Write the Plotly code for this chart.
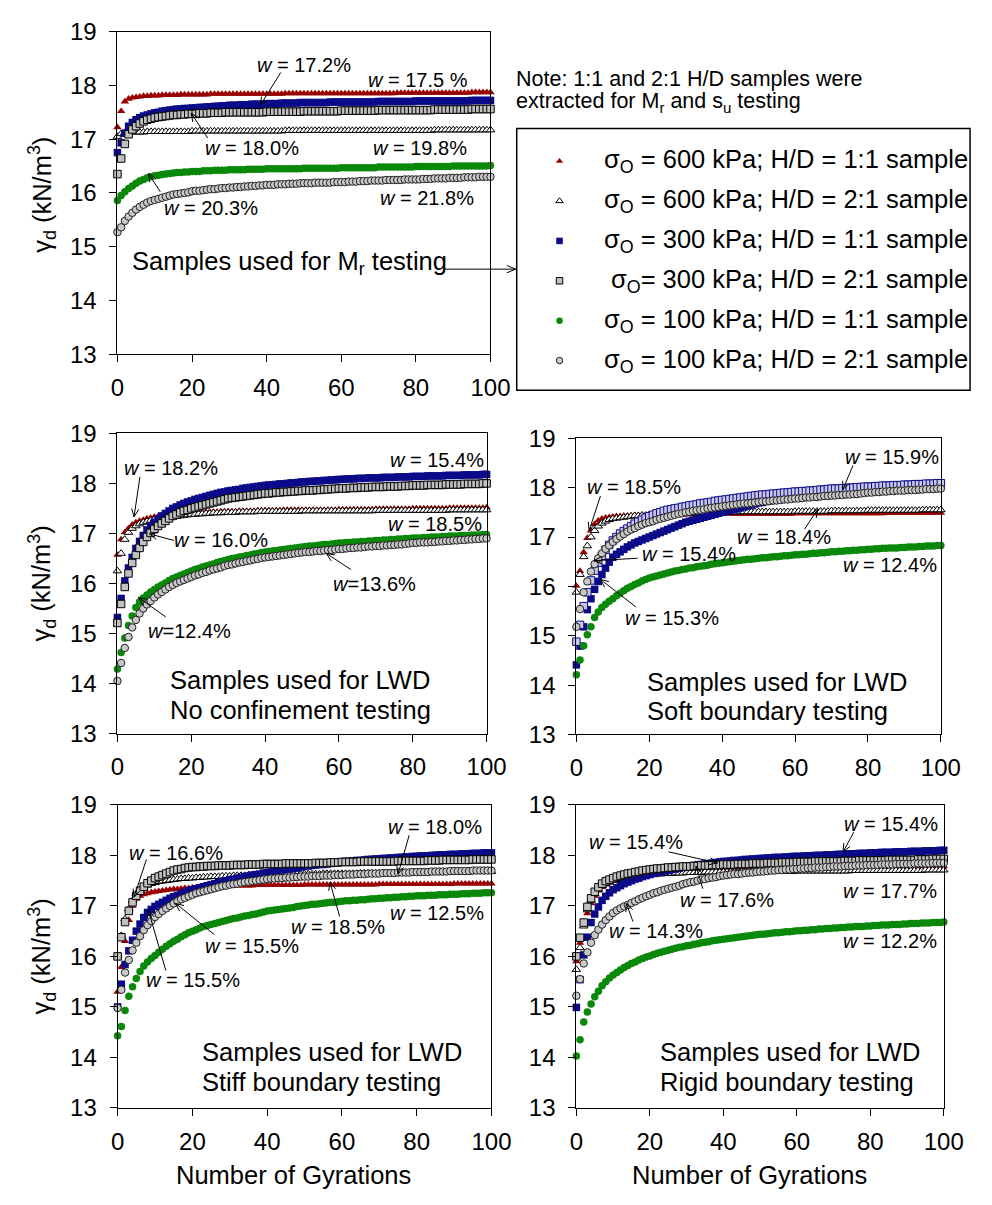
import math
import plotly.graph_objects as go

W, H = 992, 1205
FONT = "Liberation Sans, Arial, sans-serif"

gyrations = list(range(0, 101))

# ---------------- Samples used for Mr testing ----------------
mr_600_11 = [
    17.22, 17.52, 17.70, 17.75, 17.77, 17.78, 17.79, 17.80, 17.80, 17.81,
    17.81, 17.81, 17.82, 17.82, 17.82, 17.82, 17.82, 17.83, 17.83, 17.83,
    17.83, 17.83, 17.83, 17.83, 17.83, 17.84, 17.84, 17.84, 17.84, 17.84,
    17.84, 17.84, 17.84, 17.84, 17.84, 17.84, 17.84, 17.84, 17.84, 17.84,
    17.84, 17.84, 17.84, 17.84, 17.84, 17.85, 17.85, 17.85, 17.85, 17.85,
    17.85, 17.85, 17.85, 17.85, 17.85, 17.85, 17.85, 17.85, 17.85, 17.85,
    17.85, 17.85, 17.85, 17.85, 17.85, 17.85, 17.85, 17.85, 17.85, 17.85,
    17.85, 17.85, 17.85, 17.85, 17.85, 17.86, 17.86, 17.86, 17.86, 17.86,
    17.86, 17.86, 17.86, 17.86, 17.86, 17.86, 17.86, 17.86, 17.86, 17.86,
    17.86, 17.86, 17.86, 17.86, 17.86, 17.87, 17.87, 17.87, 17.87, 17.87,
    17.87]
mr_600_21 = [
    17.05, 17.10, 17.12, 17.12, 17.13, 17.13, 17.13, 17.13, 17.14, 17.14,
    17.14, 17.14, 17.14, 17.14, 17.14, 17.14, 17.14, 17.14, 17.14, 17.14,
    17.15, 17.15, 17.15, 17.15, 17.15, 17.15, 17.15, 17.15, 17.15, 17.15,
    17.15, 17.15, 17.15, 17.15, 17.15, 17.15, 17.15, 17.15, 17.15, 17.15,
    17.15, 17.15, 17.15, 17.15, 17.15, 17.16, 17.16, 17.16, 17.16, 17.16,
    17.16, 17.16, 17.16, 17.16, 17.16, 17.16, 17.16, 17.16, 17.16, 17.16,
    17.16, 17.16, 17.16, 17.16, 17.16, 17.16, 17.16, 17.16, 17.16, 17.16,
    17.16, 17.16, 17.16, 17.16, 17.16, 17.16, 17.16, 17.16, 17.16, 17.16,
    17.16, 17.16, 17.16, 17.16, 17.16, 17.17, 17.17, 17.17, 17.17, 17.17,
    17.17, 17.17, 17.17, 17.17, 17.17, 17.17, 17.17, 17.17, 17.17, 17.17,
    17.17]
mr_300_11 = [
    16.75, 16.93, 17.11, 17.24, 17.31, 17.36, 17.40, 17.43, 17.45, 17.47,
    17.49, 17.50, 17.52, 17.53, 17.54, 17.55, 17.56, 17.56, 17.57, 17.57,
    17.58, 17.58, 17.59, 17.59, 17.60, 17.60, 17.61, 17.61, 17.62, 17.62,
    17.63, 17.63, 17.63, 17.64, 17.64, 17.64, 17.65, 17.65, 17.65, 17.65,
    17.66, 17.66, 17.66, 17.66, 17.67, 17.67, 17.67, 17.67, 17.67, 17.68,
    17.68, 17.68, 17.68, 17.68, 17.68, 17.68, 17.68, 17.69, 17.69, 17.69,
    17.69, 17.69, 17.69, 17.69, 17.69, 17.69, 17.69, 17.69, 17.69, 17.69,
    17.70, 17.70, 17.70, 17.70, 17.70, 17.70, 17.70, 17.70, 17.70, 17.70,
    17.71, 17.71, 17.71, 17.71, 17.71, 17.71, 17.71, 17.71, 17.71, 17.71,
    17.71, 17.71, 17.71, 17.71, 17.71, 17.72, 17.72, 17.72, 17.72, 17.72,
    17.72]
mr_300_21 = [
    16.35, 16.64, 16.91, 17.09, 17.18, 17.24, 17.29, 17.33, 17.36, 17.38,
    17.40, 17.41, 17.42, 17.43, 17.44, 17.45, 17.45, 17.46, 17.46, 17.47,
    17.47, 17.47, 17.48, 17.48, 17.48, 17.49, 17.49, 17.49, 17.49, 17.50,
    17.50, 17.50, 17.50, 17.50, 17.50, 17.50, 17.50, 17.50, 17.50, 17.50,
    17.51, 17.51, 17.51, 17.51, 17.51, 17.51, 17.51, 17.51, 17.51, 17.51,
    17.52, 17.52, 17.52, 17.52, 17.52, 17.52, 17.52, 17.52, 17.52, 17.52,
    17.53, 17.53, 17.53, 17.53, 17.53, 17.53, 17.53, 17.53, 17.53, 17.53,
    17.54, 17.54, 17.54, 17.54, 17.54, 17.54, 17.54, 17.54, 17.54, 17.54,
    17.54, 17.54, 17.54, 17.54, 17.54, 17.55, 17.55, 17.55, 17.55, 17.55,
    17.55, 17.55, 17.55, 17.55, 17.55, 17.56, 17.56, 17.56, 17.56, 17.56,
    17.56]
mr_100_11 = [
    15.86, 15.95, 16.02, 16.08, 16.13, 16.18, 16.22, 16.25, 16.28, 16.30,
    16.32, 16.33, 16.34, 16.35, 16.36, 16.37, 16.38, 16.38, 16.39, 16.39,
    16.40, 16.40, 16.40, 16.41, 16.41, 16.41, 16.42, 16.42, 16.42, 16.42,
    16.43, 16.43, 16.43, 16.43, 16.43, 16.44, 16.44, 16.44, 16.44, 16.44,
    16.45, 16.45, 16.45, 16.45, 16.45, 16.45, 16.45, 16.45, 16.45, 16.45,
    16.46, 16.46, 16.46, 16.46, 16.46, 16.46, 16.46, 16.46, 16.46, 16.46,
    16.47, 16.47, 16.47, 16.47, 16.47, 16.47, 16.47, 16.47, 16.47, 16.47,
    16.48, 16.48, 16.48, 16.48, 16.48, 16.48, 16.48, 16.48, 16.48, 16.48,
    16.49, 16.49, 16.49, 16.49, 16.49, 16.49, 16.49, 16.49, 16.49, 16.49,
    16.50, 16.50, 16.50, 16.50, 16.50, 16.50, 16.50, 16.50, 16.50, 16.50,
    16.51]
mr_100_21 = [
    15.27, 15.36, 15.48, 15.56, 15.63, 15.69, 15.74, 15.78, 15.82, 15.85,
    15.87, 15.89, 15.91, 15.93, 15.95, 15.97, 15.98, 15.99, 16.00, 16.01,
    16.03, 16.04, 16.04, 16.05, 16.06, 16.07, 16.07, 16.08, 16.09, 16.09,
    16.10, 16.10, 16.11, 16.11, 16.12, 16.12, 16.13, 16.13, 16.14, 16.14,
    16.15, 16.15, 16.15, 16.16, 16.16, 16.16, 16.17, 16.17, 16.17, 16.18,
    16.18, 16.18, 16.18, 16.19, 16.19, 16.19, 16.19, 16.19, 16.20, 16.20,
    16.20, 16.20, 16.21, 16.21, 16.21, 16.22, 16.22, 16.22, 16.23, 16.23,
    16.23, 16.23, 16.24, 16.24, 16.24, 16.24, 16.24, 16.25, 16.25, 16.25,
    16.25, 16.25, 16.26, 16.26, 16.26, 16.27, 16.27, 16.27, 16.27, 16.28,
    16.28, 16.28, 16.28, 16.29, 16.29, 16.29, 16.29, 16.30, 16.30, 16.30,
    16.30]

# ---------------- LWD, no confinement ----------------
nc_600_11 = [
    16.57, 16.88, 17.02, 17.10, 17.17, 17.22, 17.25, 17.27, 17.30, 17.31,
    17.33, 17.34, 17.35, 17.36, 17.37, 17.38, 17.38, 17.39, 17.40, 17.40,
    17.41, 17.41, 17.42, 17.42, 17.42, 17.43, 17.43, 17.43, 17.44, 17.44,
    17.44, 17.44, 17.44, 17.45, 17.45, 17.45, 17.45, 17.45, 17.46, 17.46,
    17.46, 17.46, 17.46, 17.46, 17.46, 17.47, 17.47, 17.47, 17.47, 17.47,
    17.47, 17.47, 17.47, 17.47, 17.47, 17.47, 17.47, 17.47, 17.47, 17.47,
    17.48, 17.48, 17.48, 17.48, 17.48, 17.48, 17.48, 17.48, 17.48, 17.48,
    17.49, 17.49, 17.49, 17.49, 17.49, 17.49, 17.49, 17.49, 17.49, 17.49,
    17.50, 17.50, 17.50, 17.50, 17.50, 17.50, 17.50, 17.50, 17.50, 17.50,
    17.51, 17.51, 17.51, 17.51, 17.51, 17.51, 17.51, 17.51, 17.51, 17.51,
    17.52]
nc_600_21 = [
    16.25, 16.60, 16.88, 17.02, 17.10, 17.15, 17.19, 17.22, 17.24, 17.26,
    17.28, 17.29, 17.30, 17.31, 17.32, 17.33, 17.34, 17.35, 17.36, 17.37,
    17.38, 17.38, 17.39, 17.39, 17.40, 17.40, 17.41, 17.41, 17.41, 17.42,
    17.42, 17.42, 17.42, 17.43, 17.43, 17.43, 17.43, 17.43, 17.44, 17.44,
    17.44, 17.44, 17.44, 17.44, 17.44, 17.44, 17.44, 17.44, 17.44, 17.44,
    17.45, 17.45, 17.45, 17.45, 17.45, 17.45, 17.45, 17.45, 17.45, 17.45,
    17.45, 17.45, 17.45, 17.45, 17.45, 17.45, 17.45, 17.45, 17.45, 17.45,
    17.46, 17.46, 17.46, 17.46, 17.46, 17.46, 17.46, 17.46, 17.46, 17.46,
    17.46, 17.46, 17.46, 17.46, 17.46, 17.46, 17.46, 17.46, 17.46, 17.46,
    17.47, 17.47, 17.47, 17.47, 17.47, 17.47, 17.47, 17.47, 17.47, 17.47,
    17.47]
nc_300_11 = [
    15.32, 15.70, 16.05, 16.31, 16.52, 16.70, 16.84, 16.96, 17.07, 17.15,
    17.22, 17.29, 17.35, 17.40, 17.45, 17.50, 17.53, 17.57, 17.60, 17.63,
    17.65, 17.68, 17.70, 17.72, 17.74, 17.76, 17.78, 17.80, 17.82, 17.83,
    17.85, 17.86, 17.87, 17.88, 17.90, 17.91, 17.92, 17.93, 17.94, 17.95,
    17.96, 17.97, 17.97, 17.98, 17.99, 17.99, 18.00, 18.01, 18.01, 18.02,
    18.03, 18.03, 18.04, 18.04, 18.05, 18.05, 18.06, 18.06, 18.07, 18.07,
    18.08, 18.08, 18.09, 18.09, 18.09, 18.10, 18.10, 18.10, 18.11, 18.11,
    18.11, 18.11, 18.12, 18.12, 18.12, 18.12, 18.13, 18.13, 18.13, 18.13,
    18.14, 18.14, 18.14, 18.14, 18.15, 18.15, 18.15, 18.15, 18.15, 18.16,
    18.16, 18.16, 18.16, 18.16, 18.17, 18.17, 18.17, 18.17, 18.17, 18.18,
    18.18]
nc_300_21 = [
    15.21, 15.59, 15.93, 16.20, 16.41, 16.57, 16.71, 16.83, 16.93, 17.01,
    17.09, 17.15, 17.20, 17.25, 17.30, 17.35, 17.38, 17.42, 17.45, 17.47,
    17.50, 17.52, 17.54, 17.56, 17.58, 17.60, 17.62, 17.64, 17.66, 17.68,
    17.70, 17.71, 17.72, 17.73, 17.74, 17.75, 17.76, 17.77, 17.78, 17.79,
    17.80, 17.80, 17.81, 17.82, 17.82, 17.83, 17.83, 17.84, 17.84, 17.85,
    17.85, 17.86, 17.86, 17.86, 17.87, 17.87, 17.88, 17.88, 17.89, 17.89,
    17.90, 17.90, 17.90, 17.91, 17.91, 17.91, 17.92, 17.92, 17.92, 17.93,
    17.93, 17.93, 17.93, 17.94, 17.94, 17.94, 17.94, 17.95, 17.95, 17.95,
    17.96, 17.96, 17.96, 17.96, 17.97, 17.97, 17.97, 17.97, 17.97, 17.98,
    17.98, 17.98, 17.98, 17.98, 17.99, 17.99, 17.99, 17.99, 17.99, 18.00,
    18.00]
nc_100_11 = [
    14.29, 14.62, 14.91, 15.16, 15.35, 15.52, 15.63, 15.71, 15.77, 15.83,
    15.88, 15.93, 15.97, 16.01, 16.06, 16.10, 16.13, 16.16, 16.19, 16.22,
    16.25, 16.28, 16.30, 16.33, 16.35, 16.37, 16.39, 16.42, 16.44, 16.46,
    16.48, 16.50, 16.51, 16.53, 16.54, 16.56, 16.57, 16.59, 16.60, 16.62,
    16.63, 16.64, 16.65, 16.66, 16.67, 16.68, 16.69, 16.70, 16.71, 16.72,
    16.73, 16.74, 16.75, 16.75, 16.76, 16.77, 16.78, 16.78, 16.79, 16.80,
    16.81, 16.81, 16.82, 16.82, 16.83, 16.83, 16.84, 16.84, 16.85, 16.85,
    16.86, 16.86, 16.87, 16.87, 16.88, 16.88, 16.89, 16.89, 16.90, 16.90,
    16.91, 16.91, 16.91, 16.92, 16.92, 16.93, 16.93, 16.93, 16.94, 16.94,
    16.95, 16.95, 16.95, 16.96, 16.96, 16.96, 16.97, 16.97, 16.97, 16.98,
    16.98]
nc_100_21 = [
    14.05, 14.41, 14.71, 14.93, 15.12, 15.27, 15.40, 15.50, 15.58, 15.65,
    15.72, 15.78, 15.83, 15.88, 15.93, 15.97, 16.01, 16.04, 16.07, 16.10,
    16.13, 16.16, 16.18, 16.21, 16.23, 16.26, 16.28, 16.30, 16.32, 16.35,
    16.37, 16.38, 16.40, 16.42, 16.43, 16.45, 16.46, 16.48, 16.49, 16.51,
    16.52, 16.53, 16.54, 16.55, 16.56, 16.57, 16.58, 16.59, 16.60, 16.61,
    16.62, 16.63, 16.63, 16.64, 16.65, 16.65, 16.66, 16.67, 16.67, 16.68,
    16.69, 16.69, 16.70, 16.71, 16.71, 16.72, 16.72, 16.73, 16.74, 16.74,
    16.75, 16.75, 16.76, 16.76, 16.77, 16.77, 16.78, 16.78, 16.79, 16.80,
    16.81, 16.81, 16.82, 16.82, 16.82, 16.83, 16.83, 16.84, 16.84, 16.85,
    16.85, 16.86, 16.86, 16.87, 16.87, 16.88, 16.88, 16.89, 16.89, 16.90,
    16.90]

# ---------------- LWD, soft boundary ----------------
soft_600_11 = [
    16.01, 16.31, 16.69, 16.98, 17.13, 17.26, 17.33, 17.37, 17.39, 17.40,
    17.41, 17.42, 17.42, 17.43, 17.43, 17.43, 17.44, 17.44, 17.44, 17.44,
    17.45, 17.45, 17.45, 17.45, 17.45, 17.45, 17.45, 17.45, 17.45, 17.45,
    17.46, 17.46, 17.46, 17.46, 17.46, 17.46, 17.46, 17.46, 17.46, 17.46,
    17.47, 17.47, 17.47, 17.47, 17.47, 17.47, 17.47, 17.47, 17.47, 17.47,
    17.47, 17.47, 17.47, 17.47, 17.47, 17.47, 17.47, 17.47, 17.47, 17.47,
    17.48, 17.48, 17.48, 17.48, 17.48, 17.48, 17.48, 17.48, 17.48, 17.48,
    17.48, 17.48, 17.48, 17.48, 17.48, 17.48, 17.48, 17.48, 17.48, 17.48,
    17.48, 17.48, 17.48, 17.48, 17.48, 17.49, 17.49, 17.49, 17.49, 17.49,
    17.49, 17.49, 17.49, 17.49, 17.49, 17.49, 17.49, 17.49, 17.49, 17.49,
    17.49]
soft_600_21 = [
    15.88, 16.24, 16.60, 16.82, 17.00, 17.13, 17.22, 17.28, 17.32, 17.35,
    17.37, 17.38, 17.39, 17.40, 17.41, 17.42, 17.43, 17.43, 17.44, 17.44,
    17.45, 17.45, 17.46, 17.46, 17.46, 17.47, 17.47, 17.47, 17.48, 17.48,
    17.48, 17.48, 17.49, 17.49, 17.49, 17.49, 17.50, 17.50, 17.50, 17.50,
    17.50, 17.50, 17.50, 17.50, 17.50, 17.51, 17.51, 17.51, 17.51, 17.51,
    17.51, 17.51, 17.51, 17.51, 17.51, 17.51, 17.51, 17.51, 17.51, 17.51,
    17.52, 17.52, 17.52, 17.52, 17.52, 17.52, 17.52, 17.52, 17.52, 17.52,
    17.53, 17.53, 17.53, 17.53, 17.53, 17.53, 17.53, 17.53, 17.53, 17.53,
    17.54, 17.54, 17.54, 17.54, 17.54, 17.54, 17.54, 17.54, 17.54, 17.54,
    17.54, 17.54, 17.54, 17.54, 17.54, 17.55, 17.55, 17.55, 17.55, 17.55,
    17.55]
soft_300_11 = [
    14.41, 14.79, 15.18, 15.53, 15.75, 15.94, 16.10, 16.24, 16.37, 16.49,
    16.59, 16.65, 16.70, 16.75, 16.80, 16.84, 16.88, 16.91, 16.94, 16.97,
    17.00, 17.03, 17.06, 17.09, 17.12, 17.15, 17.18, 17.21, 17.24, 17.27,
    17.30, 17.32, 17.34, 17.36, 17.38, 17.40, 17.42, 17.44, 17.46, 17.48,
    17.50, 17.52, 17.54, 17.55, 17.57, 17.59, 17.61, 17.63, 17.65, 17.67,
    17.69, 17.70, 17.72, 17.73, 17.74, 17.76, 17.77, 17.78, 17.79, 17.80,
    17.82, 17.83, 17.84, 17.84, 17.85, 17.86, 17.87, 17.88, 17.88, 17.89,
    17.90, 17.91, 17.91, 17.92, 17.93, 17.93, 17.94, 17.95, 17.95, 17.96,
    17.96, 17.97, 17.97, 17.98, 17.98, 17.99, 17.99, 18.00, 18.00, 18.01,
    18.01, 18.02, 18.02, 18.02, 18.03, 18.03, 18.03, 18.04, 18.04, 18.04,
    18.05]
soft_300_21 = [
    14.88, 15.22, 15.60, 15.88, 16.12, 16.32, 16.48, 16.62, 16.74, 16.84,
    16.93, 17.00, 17.07, 17.12, 17.17, 17.22, 17.27, 17.31, 17.35, 17.39,
    17.42, 17.45, 17.48, 17.50, 17.53, 17.55, 17.56, 17.58, 17.59, 17.61,
    17.62, 17.64, 17.65, 17.66, 17.68, 17.69, 17.70, 17.71, 17.73, 17.74,
    17.75, 17.76, 17.77, 17.78, 17.79, 17.80, 17.81, 17.82, 17.83, 17.84,
    17.85, 17.86, 17.86, 17.87, 17.88, 17.88, 17.89, 17.90, 17.90, 17.91,
    17.92, 17.92, 17.93, 17.93, 17.94, 17.94, 17.95, 17.96, 17.96, 17.97,
    17.98, 17.98, 17.98, 17.99, 17.99, 18.00, 18.00, 18.01, 18.01, 18.02,
    18.02, 18.02, 18.03, 18.03, 18.04, 18.04, 18.04, 18.05, 18.05, 18.05,
    18.06, 18.06, 18.06, 18.07, 18.07, 18.07, 18.08, 18.08, 18.08, 18.09,
    18.09]
soft_100_11 = [
    14.21, 14.51, 14.80, 15.02, 15.18, 15.37, 15.48, 15.57, 15.64, 15.70,
    15.75, 15.81, 15.86, 15.91, 15.96, 16.00, 16.04, 16.07, 16.11, 16.14,
    16.17, 16.19, 16.21, 16.23, 16.25, 16.27, 16.29, 16.31, 16.32, 16.34,
    16.35, 16.37, 16.38, 16.40, 16.41, 16.42, 16.43, 16.45, 16.46, 16.47,
    16.48, 16.49, 16.50, 16.51, 16.52, 16.53, 16.54, 16.55, 16.55, 16.56,
    16.57, 16.58, 16.58, 16.59, 16.60, 16.60, 16.61, 16.62, 16.62, 16.63,
    16.64, 16.64, 16.65, 16.65, 16.66, 16.67, 16.67, 16.68, 16.68, 16.69,
    16.70, 16.70, 16.71, 16.71, 16.72, 16.72, 16.73, 16.73, 16.74, 16.74,
    16.75, 16.75, 16.76, 16.76, 16.77, 16.77, 16.78, 16.78, 16.78, 16.79,
    16.79, 16.80, 16.80, 16.80, 16.81, 16.81, 16.82, 16.82, 16.82, 16.83,
    16.83]
soft_100_21 = [
    15.18, 15.54, 15.88, 16.10, 16.30, 16.45, 16.57, 16.67, 16.76, 16.83,
    16.90, 16.96, 17.01, 17.06, 17.11, 17.15, 17.18, 17.22, 17.25, 17.28,
    17.30, 17.32, 17.35, 17.37, 17.39, 17.41, 17.43, 17.45, 17.47, 17.48,
    17.50, 17.51, 17.53, 17.54, 17.55, 17.56, 17.58, 17.59, 17.60, 17.61,
    17.62, 17.63, 17.64, 17.65, 17.66, 17.67, 17.68, 17.68, 17.69, 17.70,
    17.71, 17.72, 17.72, 17.73, 17.74, 17.74, 17.75, 17.76, 17.76, 17.77,
    17.78, 17.78, 17.79, 17.80, 17.80, 17.81, 17.81, 17.82, 17.83, 17.83,
    17.84, 17.84, 17.85, 17.85, 17.86, 17.86, 17.87, 17.87, 17.88, 17.89,
    17.90, 17.90, 17.91, 17.91, 17.92, 17.92, 17.93, 17.93, 17.94, 17.94,
    17.94, 17.95, 17.95, 17.95, 17.96, 17.96, 17.97, 17.97, 17.97, 17.98,
    17.98]

# ---------------- LWD, stiff boundary ----------------
stiff_600_11 = [
    15.30, 15.79, 16.30, 16.72, 17.00, 17.14, 17.20, 17.23, 17.25, 17.27,
    17.28, 17.29, 17.30, 17.31, 17.32, 17.33, 17.33, 17.34, 17.35, 17.35,
    17.36, 17.36, 17.37, 17.37, 17.37, 17.38, 17.38, 17.38, 17.39, 17.39,
    17.39, 17.39, 17.40, 17.40, 17.40, 17.40, 17.40, 17.41, 17.41, 17.41,
    17.41, 17.41, 17.41, 17.41, 17.41, 17.41, 17.41, 17.41, 17.41, 17.41,
    17.42, 17.42, 17.42, 17.42, 17.42, 17.42, 17.42, 17.42, 17.42, 17.42,
    17.42, 17.42, 17.42, 17.42, 17.42, 17.42, 17.42, 17.42, 17.42, 17.42,
    17.43, 17.43, 17.43, 17.43, 17.43, 17.43, 17.43, 17.43, 17.43, 17.43,
    17.43, 17.43, 17.43, 17.43, 17.43, 17.43, 17.43, 17.43, 17.43, 17.43,
    17.44, 17.44, 17.44, 17.44, 17.44, 17.44, 17.44, 17.44, 17.44, 17.44,
    17.44]
stiff_600_21 = [
    16.01, 16.41, 16.74, 16.94, 17.11, 17.24, 17.32, 17.37, 17.41, 17.44,
    17.46, 17.48, 17.49, 17.50, 17.51, 17.52, 17.53, 17.54, 17.54, 17.55,
    17.55, 17.56, 17.56, 17.57, 17.57, 17.58, 17.58, 17.58, 17.59, 17.59,
    17.59, 17.60, 17.60, 17.60, 17.60, 17.61, 17.61, 17.61, 17.61, 17.62,
    17.62, 17.62, 17.62, 17.62, 17.62, 17.63, 17.63, 17.63, 17.63, 17.63,
    17.63, 17.63, 17.63, 17.63, 17.63, 17.64, 17.64, 17.64, 17.64, 17.64,
    17.64, 17.64, 17.64, 17.64, 17.64, 17.65, 17.65, 17.65, 17.65, 17.65,
    17.65, 17.65, 17.65, 17.65, 17.65, 17.66, 17.66, 17.66, 17.66, 17.66,
    17.66, 17.66, 17.66, 17.66, 17.66, 17.67, 17.67, 17.67, 17.67, 17.67,
    17.67, 17.67, 17.67, 17.67, 17.67, 17.68, 17.68, 17.68, 17.68, 17.68,
    17.68]
stiff_300_11 = [
    15.00, 15.45, 15.84, 16.11, 16.32, 16.50, 16.64, 16.77, 16.87, 16.93,
    16.99, 17.03, 17.07, 17.11, 17.15, 17.18, 17.21, 17.24, 17.27, 17.30,
    17.32, 17.34, 17.36, 17.38, 17.40, 17.42, 17.44, 17.46, 17.48, 17.50,
    17.52, 17.53, 17.55, 17.56, 17.58, 17.59, 17.61, 17.62, 17.63, 17.65,
    17.66, 17.67, 17.68, 17.70, 17.71, 17.72, 17.73, 17.74, 17.75, 17.77,
    17.78, 17.79, 17.80, 17.81, 17.82, 17.82, 17.83, 17.84, 17.85, 17.86,
    17.87, 17.88, 17.88, 17.89, 17.90, 17.90, 17.91, 17.92, 17.92, 17.93,
    17.93, 17.94, 17.94, 17.95, 17.95, 17.96, 17.96, 17.97, 17.97, 17.98,
    17.98, 17.99, 17.99, 17.99, 18.00, 18.00, 18.01, 18.01, 18.01, 18.02,
    18.02, 18.02, 18.03, 18.03, 18.03, 18.04, 18.04, 18.04, 18.05, 18.05,
    18.05]
stiff_300_21 = [
    16.00, 16.38, 16.68, 16.90, 17.07, 17.20, 17.30, 17.38, 17.45, 17.50,
    17.55, 17.58, 17.61, 17.64, 17.67, 17.70, 17.72, 17.73, 17.75, 17.76,
    17.77, 17.77, 17.78, 17.78, 17.79, 17.79, 17.79, 17.80, 17.80, 17.80,
    17.80, 17.81, 17.81, 17.81, 17.81, 17.82, 17.82, 17.82, 17.82, 17.83,
    17.83, 17.83, 17.83, 17.83, 17.83, 17.84, 17.84, 17.84, 17.84, 17.84,
    17.84, 17.84, 17.84, 17.85, 17.85, 17.85, 17.85, 17.86, 17.86, 17.86,
    17.87, 17.87, 17.87, 17.87, 17.87, 17.88, 17.88, 17.88, 17.88, 17.88,
    17.88, 17.88, 17.88, 17.88, 17.88, 17.89, 17.89, 17.89, 17.89, 17.89,
    17.89, 17.89, 17.89, 17.90, 17.90, 17.90, 17.90, 17.91, 17.91, 17.91,
    17.91, 17.91, 17.91, 17.91, 17.91, 17.92, 17.92, 17.92, 17.92, 17.92,
    17.92]
stiff_100_11 = [
    14.43, 14.61, 14.93, 15.21, 15.40, 15.56, 15.70, 15.81, 15.89, 15.96,
    16.02, 16.08, 16.14, 16.20, 16.25, 16.30, 16.34, 16.39, 16.43, 16.47,
    16.50, 16.53, 16.56, 16.59, 16.61, 16.63, 16.65, 16.67, 16.69, 16.71,
    16.73, 16.75, 16.76, 16.78, 16.80, 16.81, 16.83, 16.84, 16.86, 16.88,
    16.90, 16.91, 16.92, 16.93, 16.94, 16.95, 16.96, 16.97, 16.99, 17.00,
    17.01, 17.02, 17.03, 17.03, 17.04, 17.05, 17.06, 17.07, 17.07, 17.08,
    17.09, 17.10, 17.10, 17.11, 17.11, 17.12, 17.12, 17.13, 17.14, 17.14,
    17.15, 17.15, 17.16, 17.16, 17.17, 17.17, 17.18, 17.18, 17.19, 17.19,
    17.20, 17.20, 17.20, 17.21, 17.21, 17.21, 17.22, 17.22, 17.22, 17.23,
    17.23, 17.23, 17.24, 17.24, 17.24, 17.25, 17.25, 17.25, 17.26, 17.26,
    17.26]
stiff_100_21 = [
    14.98, 15.34, 15.68, 15.93, 16.12, 16.27, 16.40, 16.52, 16.62, 16.70,
    16.78, 16.84, 16.90, 16.95, 17.00, 17.05, 17.09, 17.13, 17.16, 17.19,
    17.22, 17.25, 17.27, 17.29, 17.31, 17.33, 17.35, 17.37, 17.39, 17.40,
    17.42, 17.43, 17.44, 17.46, 17.47, 17.48, 17.49, 17.50, 17.51, 17.52,
    17.53, 17.54, 17.54, 17.55, 17.55, 17.56, 17.56, 17.57, 17.57, 17.58,
    17.58, 17.58, 17.59, 17.59, 17.59, 17.60, 17.60, 17.60, 17.61, 17.61,
    17.61, 17.62, 17.62, 17.62, 17.63, 17.63, 17.63, 17.64, 17.64, 17.64,
    17.64, 17.65, 17.65, 17.65, 17.65, 17.66, 17.66, 17.66, 17.66, 17.67,
    17.67, 17.67, 17.67, 17.67, 17.68, 17.68, 17.68, 17.68, 17.68, 17.69,
    17.69, 17.69, 17.69, 17.69, 17.69, 17.70, 17.70, 17.70, 17.70, 17.70,
    17.70]

# ---------------- LWD, rigid boundary ----------------
rigid_600_11 = [
    15.90, 16.27, 16.60, 16.85, 17.05, 17.20, 17.30, 17.37, 17.42, 17.46,
    17.50, 17.52, 17.54, 17.56, 17.58, 17.59, 17.60, 17.61, 17.63, 17.64,
    17.65, 17.65, 17.66, 17.66, 17.67, 17.67, 17.68, 17.68, 17.68, 17.69,
    17.69, 17.69, 17.70, 17.70, 17.70, 17.70, 17.71, 17.71, 17.71, 17.71,
    17.72, 17.72, 17.72, 17.72, 17.72, 17.73, 17.73, 17.73, 17.73, 17.73,
    17.73, 17.73, 17.73, 17.73, 17.73, 17.74, 17.74, 17.74, 17.74, 17.74,
    17.74, 17.74, 17.74, 17.74, 17.74, 17.75, 17.75, 17.75, 17.75, 17.75,
    17.75, 17.75, 17.75, 17.75, 17.75, 17.76, 17.76, 17.76, 17.76, 17.76,
    17.76, 17.76, 17.76, 17.76, 17.76, 17.77, 17.77, 17.77, 17.77, 17.77,
    17.77, 17.77, 17.77, 17.77, 17.77, 17.78, 17.78, 17.78, 17.78, 17.78,
    17.78]
rigid_600_21 = [
    15.74, 16.17, 16.60, 16.92, 17.11, 17.24, 17.33, 17.40, 17.44, 17.47,
    17.50, 17.52, 17.54, 17.55, 17.56, 17.57, 17.58, 17.59, 17.60, 17.61,
    17.62, 17.62, 17.63, 17.63, 17.64, 17.64, 17.64, 17.65, 17.65, 17.65,
    17.66, 17.66, 17.66, 17.66, 17.66, 17.67, 17.67, 17.67, 17.67, 17.67,
    17.67, 17.67, 17.67, 17.67, 17.67, 17.68, 17.68, 17.68, 17.68, 17.68,
    17.68, 17.68, 17.68, 17.68, 17.68, 17.68, 17.68, 17.68, 17.68, 17.68,
    17.69, 17.69, 17.69, 17.69, 17.69, 17.69, 17.69, 17.69, 17.69, 17.69,
    17.69, 17.69, 17.69, 17.69, 17.69, 17.70, 17.70, 17.70, 17.70, 17.70,
    17.70, 17.70, 17.70, 17.70, 17.70, 17.70, 17.70, 17.70, 17.70, 17.70,
    17.70, 17.70, 17.70, 17.70, 17.70, 17.71, 17.71, 17.71, 17.71, 17.71,
    17.71]
rigid_300_11 = [
    14.99, 15.54, 16.03, 16.38, 16.67, 16.84, 16.98, 17.11, 17.19, 17.26,
    17.32, 17.36, 17.40, 17.44, 17.47, 17.50, 17.53, 17.55, 17.58, 17.60,
    17.62, 17.64, 17.66, 17.67, 17.69, 17.70, 17.72, 17.73, 17.75, 17.76,
    17.78, 17.79, 17.80, 17.81, 17.82, 17.83, 17.84, 17.85, 17.86, 17.87,
    17.88, 17.88, 17.89, 17.90, 17.90, 17.91, 17.92, 17.92, 17.93, 17.93,
    17.94, 17.94, 17.95, 17.95, 17.96, 17.96, 17.96, 17.97, 17.97, 17.98,
    17.98, 17.98, 17.99, 17.99, 17.99, 18.00, 18.00, 18.00, 18.01, 18.01,
    18.01, 18.02, 18.02, 18.02, 18.03, 18.03, 18.03, 18.04, 18.04, 18.04,
    18.05, 18.05, 18.05, 18.06, 18.06, 18.06, 18.06, 18.07, 18.07, 18.07,
    18.07, 18.08, 18.08, 18.08, 18.08, 18.09, 18.09, 18.09, 18.09, 18.10,
    18.10]
rigid_300_21 = [
    16.00, 16.37, 16.67, 16.98, 17.15, 17.28, 17.37, 17.44, 17.49, 17.52,
    17.55, 17.58, 17.60, 17.62, 17.64, 17.65, 17.67, 17.68, 17.70, 17.71,
    17.72, 17.73, 17.74, 17.74, 17.75, 17.76, 17.76, 17.77, 17.77, 17.78,
    17.78, 17.78, 17.79, 17.79, 17.80, 17.80, 17.80, 17.81, 17.81, 17.81,
    17.82, 17.82, 17.82, 17.82, 17.83, 17.83, 17.83, 17.83, 17.84, 17.84,
    17.84, 17.84, 17.85, 17.85, 17.85, 17.85, 17.86, 17.86, 17.86, 17.86,
    17.87, 17.87, 17.87, 17.87, 17.87, 17.88, 17.88, 17.88, 17.88, 17.88,
    17.88, 17.88, 17.88, 17.89, 17.89, 17.89, 17.89, 17.90, 17.90, 17.90,
    17.90, 17.90, 17.90, 17.90, 17.90, 17.91, 17.91, 17.91, 17.91, 17.91,
    17.91, 17.91, 17.91, 17.92, 17.92, 17.92, 17.92, 17.93, 17.93, 17.93,
    17.93]
rigid_100_11 = [
    14.03, 14.35, 14.70, 14.90, 15.06, 15.20, 15.31, 15.42, 15.50, 15.57,
    15.63, 15.68, 15.73, 15.78, 15.82, 15.86, 15.89, 15.93, 15.96, 15.99,
    16.01, 16.04, 16.06, 16.08, 16.10, 16.12, 16.14, 16.16, 16.18, 16.19,
    16.21, 16.22, 16.24, 16.25, 16.27, 16.28, 16.29, 16.31, 16.32, 16.33,
    16.34, 16.35, 16.36, 16.37, 16.38, 16.39, 16.40, 16.41, 16.42, 16.43,
    16.44, 16.44, 16.45, 16.46, 16.47, 16.47, 16.48, 16.49, 16.49, 16.50,
    16.51, 16.51, 16.52, 16.52, 16.53, 16.53, 16.54, 16.54, 16.55, 16.55,
    16.56, 16.56, 16.57, 16.57, 16.58, 16.58, 16.59, 16.59, 16.59, 16.60,
    16.60, 16.61, 16.61, 16.62, 16.62, 16.62, 16.63, 16.63, 16.63, 16.64,
    16.64, 16.65, 16.65, 16.65, 16.66, 16.66, 16.66, 16.67, 16.67, 16.67,
    16.68]
rigid_100_21 = [
    15.22, 15.55, 15.86, 16.08, 16.27, 16.42, 16.53, 16.63, 16.72, 16.79,
    16.86, 16.91, 16.95, 16.99, 17.02, 17.06, 17.09, 17.13, 17.16, 17.19,
    17.22, 17.25, 17.27, 17.30, 17.32, 17.34, 17.36, 17.38, 17.40, 17.43,
    17.45, 17.47, 17.48, 17.50, 17.52, 17.53, 17.55, 17.56, 17.57, 17.59,
    17.60, 17.61, 17.62, 17.63, 17.63, 17.64, 17.65, 17.66, 17.66, 17.67,
    17.68, 17.68, 17.69, 17.70, 17.70, 17.71, 17.71, 17.72, 17.72, 17.73,
    17.73, 17.74, 17.74, 17.75, 17.75, 17.76, 17.76, 17.76, 17.77, 17.77,
    17.78, 17.78, 17.78, 17.79, 17.79, 17.79, 17.80, 17.80, 17.80, 17.81,
    17.81, 17.81, 17.81, 17.82, 17.82, 17.82, 17.82, 17.83, 17.83, 17.83,
    17.83, 17.83, 17.84, 17.84, 17.84, 17.84, 17.84, 17.85, 17.85, 17.85,
    17.85]

legend_labels = [
    "σ<sub>O</sub> = 600 kPa; H/D = 1:1 sample",
    "σ<sub>O</sub> = 600 kPa; H/D = 2:1 sample",
    "σ<sub>O</sub> = 300 kPa; H/D = 1:1 sample",
    "σ<sub>O</sub>= 300 kPa; H/D = 2:1 sample",
    "σ<sub>O</sub> = 100 kPa; H/D = 1:1 sample",
    "σ<sub>O</sub> = 100 kPa; H/D = 2:1 sample",
]
series_keys = ["600_11", "600_21", "300_11", "300_21", "100_11", "100_21"]

panels = [
    [mr_600_11, mr_600_21, mr_300_11, mr_300_21, mr_100_11, mr_100_21],
    [nc_600_11, nc_600_21, nc_300_11, nc_300_21, nc_100_11, nc_100_21],
    [soft_600_11, soft_600_21, soft_300_11, soft_300_21, soft_100_11, soft_100_21],
    [stiff_600_11, stiff_600_21, stiff_300_11, stiff_300_21, stiff_100_11, stiff_100_21],
    [rigid_600_11, rigid_600_21, rigid_300_11, rigid_300_21, rigid_100_11, rigid_100_21],
]
for p in panels:
    for s in p:
        assert len(s) == len(gyrations), len(s)

RED, NAVY, GREEN = "#990000", "#0b0b8a", "#0a880a"
styles = {
    "600_11": dict(symbol="triangle-up", size=7.5, color=RED, line=dict(width=0)),
    "600_21": dict(symbol="triangle-up", size=7.5, color="white", line=dict(color="black", width=1)),
    "300_11": dict(symbol="square", size=7.5, color=NAVY, line=dict(width=0)),
    "300_21": dict(symbol="square", size=7.5, color="#c0c0c0", line=dict(color="black", width=1)),
    "100_11": dict(symbol="circle", size=7.5, color=GREEN, line=dict(width=0)),
    "100_21": dict(symbol="circle", size=7.5, color="#c8c8c8", line=dict(color="#222222", width=1)),
}
soft_square = dict(symbol="square", size=7.5, color="#c8c8e4", line=dict(color=NAVY, width=1))

# plot-area boxes in pixels (left, right, top, bottom)
boxes = [
    (113.5, 497.0, 18.0, 348.0),
    (113.5, 493.0, 429.0, 736.0),
    (585.3, 960.0, 434.0, 737.0),
    (113.7, 498.0, 809.0, 1119.0),
    (585.3, 963.0, 809.0, 1119.0),
]
X_RANGE, Y_RANGE = (0, 100), (13, 19)


def px_x(v):
    return v / W


def px_y(v):
    return 1 - v / H


fig = go.Figure()
layout_axes = {}
for i, (series, box) in enumerate(zip(panels, boxes)):
    n = "" if i == 0 else str(i + 1)
    xa, ya = "x" + n, "y" + n
    for key, vals in zip(series_keys, series):
        mk = styles[key]
        if i == 2 and key == "300_21":
            mk = soft_square
        fig.add_trace(go.Scatter(
            x=gyrations, y=vals, mode="markers", marker=mk,
            xaxis=xa, yaxis=ya, showlegend=False, cliponaxis=False,
            hoverinfo="x+y"))
    l, r, t, b = box
    layout_axes["xaxis" + n] = dict(
        domain=[px_x(l), px_x(r)], anchor=ya, range=list(X_RANGE),
        tickvals=[0, 20, 40, 60, 80, 100], ticks="outside", ticklen=7,
        tickcolor="black", showline=True, linecolor="black", linewidth=1,
        mirror=True, showgrid=False, zeroline=False,
        tickfont=dict(size=24, color="black"), ticklabelstandoff=5)
    layout_axes["yaxis" + n] = dict(
        domain=[px_y(b), px_y(t)], anchor=xa, range=list(Y_RANGE),
        tickvals=[13, 14, 15, 16, 17, 18, 19], ticks="outside", ticklen=7,
        tickcolor="black", showline=True, linecolor="black", linewidth=1,
        mirror=True, showgrid=False, zeroline=False,
        tickfont=dict(size=24, color="black"), ticklabelstandoff=8)

# full-page overlay axis in pixel units, used for the legend and the pointer arrow
layout_axes["xaxis6"] = dict(domain=[0, 1], range=[0, W], anchor="y6",
                             visible=False, fixedrange=True)
layout_axes["yaxis6"] = dict(domain=[0, 1], range=[H, 0], anchor="x6",
                             visible=False, fixedrange=True)


def add_arrow(xa, ya, sx, sy, tail, head, length=9.0, spread=24.0):
    """Thin line with an open V head; sx, sy are pixels per data unit."""
    ux = (head[0] - tail[0]) * sx
    uy = (head[1] - tail[1]) * sy
    norm = math.hypot(ux, uy) or 1.0
    bx, by = -ux / norm, -uy / norm
    xs, ys = [tail[0], head[0], None], [tail[1], head[1], None]
    for sgn in (1, -1):
        a = math.radians(spread) * sgn
        wx = bx * math.cos(a) - by * math.sin(a)
        wy = bx * math.sin(a) + by * math.cos(a)
        xs += [head[0] + length * wx / sx, head[0]]
        ys += [head[1] + length * wy / sy, head[1]]
        xs.append(None)
        ys.append(None)
    fig.add_trace(go.Scatter(x=xs, y=ys, mode="lines", xaxis=xa, yaxis=ya,
                             line=dict(color="black", width=1), showlegend=False,
                             hoverinfo="skip", connectgaps=False))


annotations = []


def label(ax, txt, x, y, size=20, xanchor="center"):
    n = "" if ax == 1 else str(ax)
    annotations.append(dict(text=txt, x=x, y=y, xref="x" + n, yref="y" + n,
                            xanchor=xanchor, yanchor="middle", showarrow=False,
                            font=dict(size=size)))


def arrow(ax, tail, head):
    n = "" if ax == 1 else str(ax)
    l, r, t, b = boxes[ax - 1]
    sx = (r - l) / (X_RANGE[1] - X_RANGE[0])
    sy = (b - t) / (Y_RANGE[1] - Y_RANGE[0])
    add_arrow("x" + n, "y" + n, sx, sy, tail, head)


W_ = "<i>w</i>"
# panel 1: Mr samples
label(1, W_ + " = 17.2%", 49.9, 18.38)
label(1, W_ + " = 17.5 %", 80.7, 18.10)
label(1, W_ + " = 18.0%", 36.0, 16.84)
label(1, W_ + " = 19.8%", 81.2, 16.84)
label(1, W_ + " = 20.3%", 25.1, 15.72)
label(1, W_ + " = 21.8%", 83.0, 15.91)
arrow(1, (43.8, 18.24), (38.3, 17.63))
arrow(1, (24.2, 17.02), (19.8, 17.48))
arrow(1, (11.5, 16.02), (8.3, 16.36))
label(1, "Samples used for M<sub>r</sub> testing", 46.0, 14.69, size=25.5)

# panel 2: no confinement
label(2, W_ + " = 18.2%", 14.4, 18.30)
label(2, W_ + " = 15.4%", 86.5, 18.46)
label(2, W_ + " = 16.0%", 28.1, 16.86)
label(2, W_ + " = 18.5%", 86.0, 17.19)
label(2, W_ + "=13.6%", 69.6, 15.98)
label(2, W_ + "=12.4%", 19.5, 15.04)
arrow(2, (6.1, 18.13), (4.5, 17.33))
arrow(2, (15.3, 16.86), (8.7, 16.99))
arrow(2, (63.2, 16.28), (56.6, 16.60))
arrow(2, (13.1, 15.33), (5.7, 15.72))
label(2, "Samples used for LWD", 13.6, 14.06, size=25.5, xanchor="left")
label(2, "No confinement testing", 13.6, 13.47, size=25.5, xanchor="left")

# panel 3: soft boundary
label(3, W_ + " = 18.5%", 15.9, 18.01)
label(3, W_ + " = 15.9%", 86.7, 18.62)
label(3, W_ + " = 18.4%", 57.0, 17.00)
label(3, W_ + " = 15.4%", 31.0, 16.65)
label(3, W_ + " = 15.3%", 26.2, 15.35)
label(3, W_ + " = 12.4%", 86.0, 16.44)
arrow(3, (6.6, 17.83), (3.5, 17.13))
arrow(3, (75.9, 18.45), (73.1, 17.96))
arrow(3, (62.6, 17.16), (66.2, 17.56))
arrow(3, (16.8, 16.57), (4.8, 16.52))
arrow(3, (16.4, 15.58), (6.6, 16.14))
label(3, "Samples used for LWD", 18.7, 14.06, size=25.5, xanchor="left")
label(3, "Soft boundary testing", 18.7, 13.47, size=25.5, xanchor="left")

# panel 4: stiff boundary
label(4, W_ + " = 16.6%", 15.5, 18.05)
label(4, W_ + " = 18.0%", 85.0, 18.56)
label(4, W_ + " = 18.5%", 58.9, 16.59)
label(4, W_ + " = 12.5%", 85.4, 16.85)
label(4, W_ + " = 15.5%", 35.9, 16.21)
label(4, W_ + " = 15.5%", 20.3, 15.53)
arrow(4, (7.7, 17.92), (4.4, 17.17))
arrow(4, (78.0, 18.40), (75.0, 17.63))
arrow(4, (59.4, 16.79), (56.8, 17.47))
arrow(4, (25.9, 16.43), (15.5, 17.05))
arrow(4, (12.9, 15.72), (8.2, 16.92))
label(4, "Samples used for LWD", 22.0, 14.10, size=25.5, xanchor="left")
label(4, "Stiff boundary testing", 22.0, 13.52, size=25.5, xanchor="left")

# panel 5: rigid boundary
label(5, W_ + " = 15.4%", 16.3, 18.27)
label(5, W_ + " = 15.4%", 85.6, 18.63)
label(5, W_ + " = 17.7%", 85.4, 17.30)
label(5, W_ + " = 17.6%", 41.0, 17.11)
label(5, W_ + " = 14.3%", 21.8, 16.50)
label(5, W_ + " = 12.2%", 85.4, 16.30)
arrow(5, (25.1, 18.07), (38.4, 17.85))
arrow(5, (75.5, 18.46), (72.6, 18.07))
arrow(5, (34.4, 17.34), (32.6, 17.79))
arrow(5, (15.4, 16.69), (13.6, 17.05))
label(5, "Samples used for LWD", 22.2, 14.11, size=25.5, xanchor="left")
label(5, "Rigid boundary testing", 22.2, 13.52, size=25.5, xanchor="left")

# legend box, keys and labels (pixel-unit overlay axis)
LEG_L, LEG_R, LEG_T, LEG_B = 524, 990, 117, 385
ROW0, ROW_GAP, KEY_X, TXT_X = 150.5, 40.8, 568, 612
for k, (key, text) in enumerate(zip(series_keys, legend_labels)):
    ms = dict(styles[key])
    ms["size"] = 6.5
    fig.add_trace(go.Scatter(x=[KEY_X], y=[ROW0 + k * ROW_GAP], mode="markers", marker=ms,
                             xaxis="x6", yaxis="y6", showlegend=False, hoverinfo="skip",
                             cliponaxis=False))
    annotations.append(dict(text=text, x=TXT_X + (7 if k == 3 else 0), y=ROW0 + k * ROW_GAP,
                            xref="x6", yref="y6", xanchor="left", yanchor="middle",
                            showarrow=False, font=dict(size=25.5)))
# pointer from the Mr caption to the legend
add_arrow("x6", "y6", 1.0, 1.0, (449, 261), (523, 261), length=10.0, spread=22.0)

# axis titles
for yc in (185, 582.5, 964):
    annotations.append(dict(text="γ<sub>d</sub> (kN/m<sup>3</sup>)", x=px_x(36), y=px_y(yc),
                            xref="paper", yref="paper", textangle=-90, showarrow=False,
                            xanchor="center", yanchor="middle", font=dict(size=25.5)))
for xc in (294.5, 763):
    annotations.append(dict(text="Number of Gyrations", x=px_x(xc), y=px_y(1188),
                            xref="paper", yref="paper", showarrow=False,
                            xanchor="center", yanchor="middle", font=dict(size=25.5)))

# note above the legend
annotations.append(dict(text="Note: 1:1 and 2:1 H/D samples were", x=px_x(521), y=px_y(66),
                        xref="paper", yref="paper", xanchor="left", yanchor="middle",
                        showarrow=False, font=dict(size=21.5)))
annotations.append(dict(text="extracted for M<sub>r</sub> and s<sub>u</sub> testing",
                        x=px_x(521), y=px_y(91), xref="paper", yref="paper",
                        xanchor="left", yanchor="middle", showarrow=False,
                        font=dict(size=21.5)))

shapes = [dict(type="rect", xref="paper", yref="paper",
               x0=px_x(LEG_L), x1=px_x(LEG_R), y0=px_y(LEG_B), y1=px_y(LEG_T),
               line=dict(color="black", width=1.5), fillcolor="rgba(0,0,0,0)")]

fig.update_layout(
    width=W, height=H, margin=dict(l=0, r=0, t=0, b=0),
    paper_bgcolor="white", plot_bgcolor="rgba(0,0,0,0)",
    font=dict(family=FONT, color="black", size=20),
    annotations=annotations, shapes=shapes, showlegend=False,
    **layout_axes)

fig.write_html("out.html")
